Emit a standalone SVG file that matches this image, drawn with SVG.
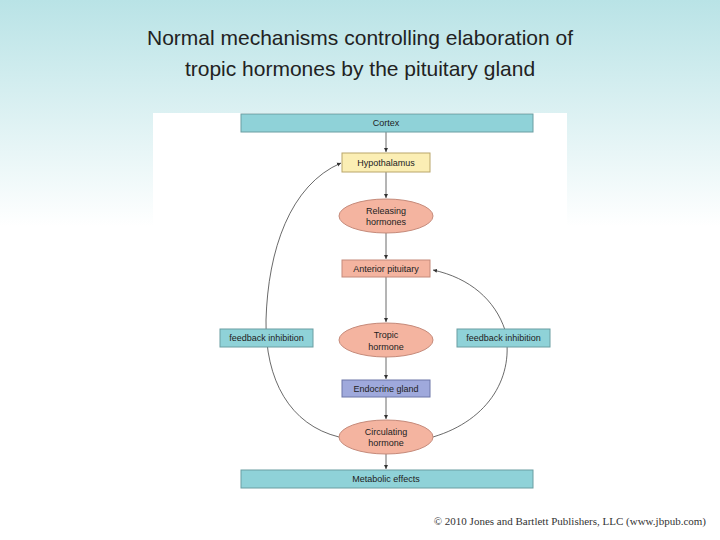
<svg xmlns="http://www.w3.org/2000/svg" width="720" height="540" viewBox="0 0 720 540">
<defs>
<linearGradient id="bg" x1="0" y1="0" x2="0" y2="1"><stop offset="0" stop-color="#b9e3e6"/><stop offset="0.42" stop-color="#ffffff"/><stop offset="1" stop-color="#ffffff"/></linearGradient>
<marker id="ar" markerWidth="6" markerHeight="6" refX="5" refY="3" orient="auto"><path d="M0,0.5 L5,3 L0,5.5 z" fill="#333"/></marker>
<style>
.t{font-family:"Liberation Sans",Arial,sans-serif;fill:#222}
.s{font-size:9px;text-anchor:middle}
.c{stroke:#444;stroke-width:0.8;fill:none;marker-end:url(#ar)}
.teal{fill:#8fd2d8;stroke:#6a9ea2;stroke-width:1}
.ov{fill:#f4b4a0;stroke:#c58a7a;stroke-width:1}
</style>
</defs>
<rect width="720" height="540" fill="url(#bg)"/>
<rect x="153" y="113" width="414" height="400" fill="#fff"/>
<text class="t" x="360" y="45" font-size="21" text-anchor="middle">Normal mechanisms controlling elaboration of</text>
<text class="t" x="360" y="76" font-size="21" text-anchor="middle">tropic hormones by the pituitary gland</text>
<g id="connectors">
<line class="c" x1="386" y1="132" x2="386" y2="152"/>
<line class="c" x1="386" y1="172" x2="386" y2="198"/>
<line class="c" x1="386" y1="233" x2="386" y2="259"/>
<line class="c" x1="386" y1="277" x2="386" y2="322"/>
<line class="c" x1="386" y1="357" x2="386" y2="379"/>
<line class="c" x1="386" y1="397" x2="386" y2="419"/>
<line class="c" x1="386" y1="454" x2="386" y2="469"/>
<path class="c" d="M339,437 C290,425 265,380 266,320 C268,250 290,185 341,163"/>
<path class="c" d="M433,437 C490,420 515,375 505,330 C495,300 470,278 433,270"/>
</g>
<g id="cortex"><rect class="teal" x="241" y="114" width="292" height="18"/><text class="t s" x="386" y="126">Cortex</text></g>
<g id="hypothalamus"><rect x="342" y="153" width="88" height="19" fill="#fbeeb4" stroke="#b9a66a"/><text class="t s" x="386" y="166">Hypothalamus</text></g>
<g id="releasing"><ellipse class="ov" cx="386" cy="216" rx="47" ry="17"/><text class="t s" x="386" y="214">Releasing</text><text class="t s" x="386" y="225">hormones</text></g>
<g id="anterior"><rect x="342" y="260" width="88" height="17" fill="#f4b4a0" stroke="#c58a7a"/><text class="t s" x="386" y="272">Anterior pituitary</text></g>
<g id="tropic"><ellipse class="ov" cx="386" cy="340" rx="47" ry="17"/><text class="t s" x="386" y="338">Tropic</text><text class="t s" x="386" y="350">hormone</text></g>
<g id="endocrine"><rect x="342" y="380" width="88" height="17" fill="#9fa9dc" stroke="#6d76a8"/><text class="t s" x="386" y="392">Endocrine gland</text></g>
<g id="circulating"><ellipse class="ov" cx="386" cy="437" rx="47" ry="17"/><text class="t s" x="386" y="435">Circulating</text><text class="t s" x="386" y="446">hormone</text></g>
<g id="metabolic"><rect class="teal" x="241" y="470" width="292" height="18"/><text class="t s" x="386" y="482">Metabolic effects</text></g>
<g id="fbLeft"><rect class="teal" x="220" y="329" width="93" height="18"/><text class="t s" x="266.5" y="341">feedback inhibition</text></g>
<g id="fbRight"><rect class="teal" x="457" y="329" width="93" height="18"/><text class="t s" x="503.5" y="341">feedback inhibition</text></g>
<text x="706" y="525" font-family="Liberation Serif,serif" font-size="11" fill="#333" text-anchor="end">© 2010 Jones and Bartlett Publishers, LLC (www.jbpub.com)</text>
</svg>
